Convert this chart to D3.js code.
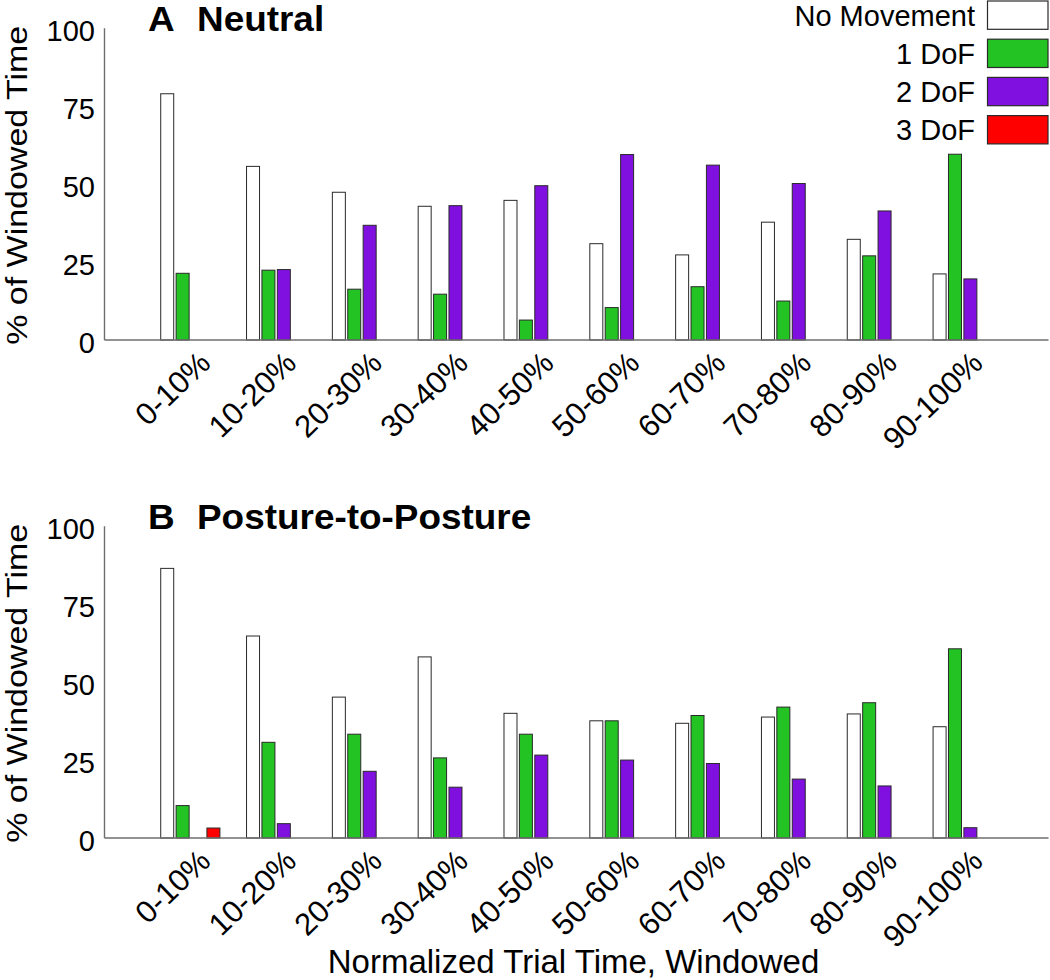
<!DOCTYPE html>
<html>
<head>
<meta charset="utf-8">
<script src="https://cdn.jsdelivr.net/npm/d3@7"></script>
<style>
  html, body { margin: 0; padding: 0; background: #fff; }
  svg text { font-family: "Liberation Sans", Arial, Helvetica, sans-serif; fill: #000; }
</style>
</head>
<body>
<svg id="chart" width="1050" height="980"></svg>
<script>
// ---- data ----
const categories = ["0-10%","10-20%","20-30%","30-40%","40-50%","50-60%","60-70%","70-80%","80-90%","90-100%"];
const seriesNames = ["No Movement","1 DoF","2 DoF","3 DoF"];
const seriesColors = ["#ffffff","#22c322","#7f10e0","#ff0000"];
const yTicks = [0,25,50,75,100];

// Panel A: Neutral
const neutralNoMove = [79.0,55.7,47.4,42.9,44.8,30.9,27.3,37.8,32.3,21.2];
const neutral1DoF   = [21.4,22.4,16.3,14.7, 6.4,10.4,17.1,12.5,27.0,59.6];
const neutral2DoF   = [ 0.0,22.6,36.8,43.1,49.5,59.5,56.1,50.2,41.4,19.6];
const neutral3DoF   = [ 0.0, 0.0, 0.0, 0.0, 0.0, 0.0, 0.0, 0.0, 0.0, 0.0];

// Panel B: Posture-to-Posture
const p2pNoMove = [86.5,64.8,45.2,58.1,40.0,37.6,36.8,38.8,39.8,35.7];
const p2p1DoF   = [10.4,30.7,33.3,25.7,33.3,37.6,39.3,42.0,43.4,60.7];
const p2p2DoF   = [ 0.0, 4.6,21.4,16.3,26.6,25.0,23.9,18.9,16.7, 3.3];
const p2p3DoF   = [ 3.2, 0.0, 0.0, 0.0, 0.0, 0.0, 0.0, 0.0, 0.0, 0.0];

const svg = d3.select("#chart");

const x = d3.scaleLinear().domain([0, 11]).range([104.5, 1048.5]);
const xSub = d3.scaleBand().domain(seriesNames).range([-30.8, 30.8])
  .paddingInner(0.156).paddingOuter(0.078);

function drawPanel(top, letter, title, series) {
  const y = d3.scaleLinear().domain([0, 100]).range([top + 311.7, top]);
  const g = svg.append("g");

  // bars
  series.forEach((vals, si) => {
    g.selectAll(null)
      .data(vals.map((v, i) => ({v, i})).filter(d => d.v > 0))
      .enter().append("rect")
      .attr("x", d => x(d.i + 1) + xSub(seriesNames[si]))
      .attr("width", xSub.bandwidth())
      .attr("y", d => y(d.v))
      .attr("height", d => y(0) - y(d.v))
      .attr("fill", seriesColors[si])
      .attr("stroke", "#2a2a2a")
      .attr("stroke-width", 1);
  });

  // axes lines
  g.append("line")
    .attr("x1", x(0)).attr("x2", x(11))
    .attr("y1", y(0)).attr("y2", y(0))
    .attr("stroke", "#6e6e6e").attr("stroke-width", 1.4);
  g.append("line")
    .attr("x1", x(0)).attr("x2", x(0))
    .attr("y1", y(0)).attr("y2", y(100))
    .attr("stroke", "#6e6e6e").attr("stroke-width", 1.4);

  // y tick labels
  g.selectAll(null).data(yTicks).enter().append("text")
    .attr("x", x(0) - 9.5)
    .attr("y", d => y(d) + 13)
    .attr("text-anchor", "end")
    .attr("font-size", 29)
    .text(d => d);

  // x tick labels (rotated)
  g.selectAll(null).data(categories).enter().append("text")
    .attr("transform", (d, i) => `translate(${x(i + 1) + 22},${y(0) + 25}) rotate(-44)`)
    .attr("text-anchor", "end")
    .attr("font-size", 31)
    .text(d => d);

  // y axis title
  g.append("text")
    .attr("transform", `translate(27,${top + 157}) rotate(-90) scale(1,0.86)`)
    .attr("text-anchor", "middle")
    .attr("font-size", 34)
    .text("% of Windowed Time");

  // panel title
  g.append("text")
    .attr("transform", `translate(148,${top + 2.8}) scale(1.07,1)`)
    .attr("font-size", 34.5).attr("font-weight", "bold").text(letter);
  g.append("text")
    .attr("transform", `translate(197,${top + 2.8}) scale(1.07,1)`)
    .attr("font-size", 34.5).attr("font-weight", "bold").text(title);
}

drawPanel(28.3, "A", "Neutral", [neutralNoMove, neutral1DoF, neutral2DoF, neutral3DoF]);
drawPanel(526.3, "B", "Posture-to-Posture", [p2pNoMove, p2p1DoF, p2p2DoF, p2p3DoF]);

// x axis title
svg.append("text")
  .attr("x", (x(0) + x(11)) / 2 - 3)
  .attr("y", 973)
  .attr("text-anchor", "middle")
  .attr("font-size", 33)
  .text("Normalized Trial Time, Windowed");

// legend
const legend = svg.append("g");
const legY = d3.scaleLinear().domain([0, 1]).range([1, 39.2]);
seriesNames.forEach((name, i) => {
  legend.append("rect")
    .attr("x", 987.5).attr("y", legY(i))
    .attr("width", 60.5).attr("height", 28.3)
    .attr("fill", seriesColors[i])
    .attr("stroke", "#2a2a2a").attr("stroke-width", 1.2);
  legend.append("text")
    .attr("x", 975).attr("y", legY(i) + 24.5)
    .attr("text-anchor", "end")
    .attr("font-size", 29)
    .text(name);
});
</script>
</body>
</html>
